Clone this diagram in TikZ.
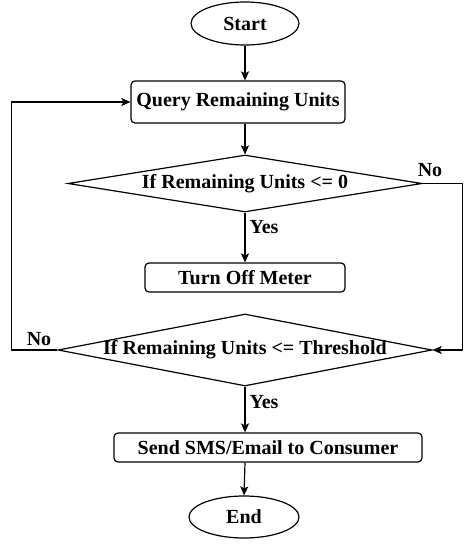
\documentclass[tikz,border=0pt]{standalone}
\usepackage{fontspec}
\setmainfont{Liberation Serif}
\usetikzlibrary{shapes.geometric,arrows.meta}
\begin{document}
\begin{tikzpicture}[x=1pt,y=-1pt,
  every node/.style={font=\fontsize{20}{22}\selectfont\bfseries, line width=1.2pt},
  term/.style={draw, ellipse, minimum width=108, minimum height=43, inner sep=0pt},
  proc/.style={draw, rectangle, rounded corners=4pt, inner sep=0pt},
  dec/.style={draw, diamond, inner sep=0pt},
  lbl/.style={inner sep=0pt},
  arr/.style={line width=1.2pt, -{Stealth[length=9pt,width=8pt,inset=2pt]}},
  ln/.style={line width=1.2pt}]
\path[use as bounding box] (0,0) rectangle (474,544);
\node[term] (start) at (245,23.5) {Start};
\node[proc, minimum width=214, minimum height=42] (query) at (238,102) {Query Remaining Units};
\node[dec, minimum width=354, minimum height=57] (d1) at (245,183.5) {\makebox[0pt]{If Remaining Units <= 0}};
\node[proc, minimum width=200, minimum height=29] (off) at (245,277.5) {Turn Off Meter};
\node[dec, minimum width=374, minimum height=72] (d2) at (245,350) {\makebox[0pt]{If Remaining Units <= Threshold}};
\node[proc, minimum width=308, minimum height=29] (send) at (268,447.5) {Send SMS/Email to Consumer};
\node[term, minimum width=110, minimum height=42] (end) at (244,517) {End};

\node[lbl] (no1) at (430,170) {No};
\node[lbl, anchor=west] (yes1) at (249,227) {Yes};
\node[lbl] (no2) at (39,339) {No};
\node[lbl, anchor=west] (yes2) at (249,402) {Yes};

\draw[arr] (start.south) -- (start.south |- query.north);
\draw[arr] (query.south -| d1.north) -- (d1.north);
\draw[arr] (d1.south) -- (off.north -| d1.south);
\draw[arr] (d1.east) -- ++(40,0) |- (d2.east);
\draw[arr] (d2.west) -- ++(-46,0) |- (query.west);
\draw[arr] (d2.south) -- (d2.south |- send.north);
\draw[arr] (send.south -| d2.south) -- (end.north);
\end{tikzpicture}
\end{document}
